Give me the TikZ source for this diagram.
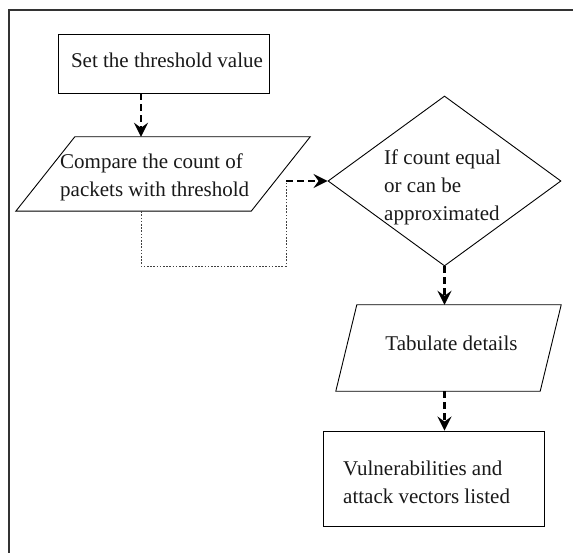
\documentclass[tikz,border=0pt]{standalone}
\usepackage{fontspec}
\setmainfont{Liberation Serif}
\usetikzlibrary{arrows.meta,shapes.geometric,calc}

\begin{document}
\begin{tikzpicture}[x=1pt,y=-1pt,
  shapeline/.style={draw=black, line width=0.9pt},
  flowbox/.style={shapeline, rectangle, inner sep=0pt},
  decision/.style={shapeline, diamond, inner sep=0pt},
  slantbox/.style={rectangle, inner sep=0pt},
  label/.style={font=\fontsize{21}{28}\selectfont, inner sep=0pt, align=left, text=black!90},
  flow/.style={line width=2.2pt, dash pattern=on 7pt off 4pt, -{Stealth[length=14pt,width=14pt,inset=5pt]}},
  loopline/.style={line width=0.8pt, black!75, dash pattern=on 1.6pt off 1.6pt},
  frame/.style={line width=1.6pt, black!80}]

\useasboundingbox (0,0) rectangle (573,553);
\fill[white] (0,0) rectangle (573,553);
% outer frame (top and left edges)
\draw[frame] (9,553) -- (9,10) -- (573,10);

% shapes
\node[flowbox, minimum width=211pt, minimum height=59pt] (set) at (163.5,63.5) {};
\node[slantbox, minimum width=294pt, minimum height=74pt] (cmp) at (163,174) {};
\draw[shapeline] ($(cmp.north west)+(59,0)$) -- (cmp.north east) -- ($(cmp.south east)+(-59,0)$) -- (cmp.south west) -- cycle;
\node[decision, minimum width=233pt, minimum height=170pt] (dia) at (444.5,181) {};
\node[slantbox, minimum width=225pt, minimum height=86pt] (tab) at (448.5,348) {};
\draw[shapeline] ($(tab.north west)+(21,0)$) -- (tab.north east) -- ($(tab.south east)+(-21,0)$) -- (tab.south west) -- cycle;
\node[flowbox, minimum width=221pt, minimum height=95pt] (vul) at (433.5,478.5) {};

% labels
\node[label] (setT) at (167,60) {Set the threshold value};
\node[label, anchor=west] (cmpT) at (60,177) {Compare the count of\\packets with threshold};
\node[label, anchor=west] (diaT) at (384,187) {If count equal\\or can be\\approximated};
\node[label] (tabT) at (451.5,343) {Tabulate details};
\node[label, anchor=west] (vulT) at (343,482) {Vulnerabilities and\\attack vectors listed};

% connectors
\coordinate (ax) at ($(set.south)+(-22.5,0)$);
\coordinate (turn) at (286,266);
\draw[flow] (ax) -- (cmp.north -| ax);
\draw[loopline] (cmp.south -| ax) |- (turn) -- (turn |- dia.west);
\draw[flow] (turn |- dia.west) -- (dia.west);
\draw[flow] (dia.south) -- (tab.north -| dia.south);
\draw[flow] (tab.south -| dia.south) -- (vul.north -| dia.south);
\end{tikzpicture}
\end{document}
